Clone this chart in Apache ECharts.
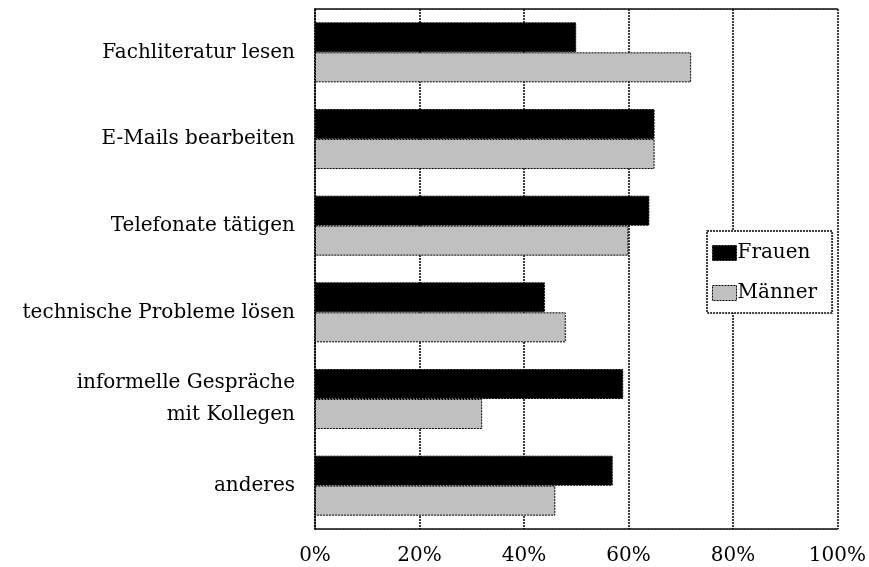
<!DOCTYPE html>
<html>
<head>
<meta charset="utf-8">
<script src="https://cdn.jsdelivr.net/npm/echarts@6/dist/echarts.min.js"></script>
<style>
html,body{margin:0;padding:0;background:#fff;}
#chart{width:869px;height:567px;}
</style>
</head>
<body>
<div id="chart"></div>
<script>
const categories = [
  'Fachliteratur lesen',
  'E-Mails bearbeiten',
  'Telefonate tätigen',
  'technische Probleme lösen',
  'informelle Gespräche\nmit Kollegen',
  'anderes'
];
const frauen = [50, 65, 64, 44, 59, 57];
const maenner = [72, 65, 60, 48, 32, 46];
const seriesNames = ['Frauen', 'Männer'];
const tickValues = [0, 20, 40, 60, 80, 100];

const FONT = 'DejaVu Serif';
const dash = [2, 1];

const chart = echarts.init(document.getElementById('chart'), null, {renderer: 'canvas'});
chart.setOption({
  animation: false,
  backgroundColor: '#fff',
  textStyle: {fontFamily: FONT, color: '#000'},
  grid: {left: 315, right: 25, top: 9, bottom: 38, containLabel: false},
  legend: {
    orient: 'vertical',
    left: 707,
    top: 231,
    padding: [12, 15, 10, 5],
    itemGap: 20,
    itemWidth: 24,
    itemHeight: 15,
    icon: 'rect',
    itemStyle: {borderColor: '#000', borderWidth: 1, borderType: dash},
    backgroundColor: '#fff',
    borderColor: '#000',
    borderWidth: 1.5,
    borderType: dash,
    textStyle: {fontFamily: FONT, fontSize: 20, color: '#000', padding: [0, 0, 0, -4]},
    data: seriesNames
  },
  xAxis: [{
    type: 'value',
    min: 0,
    max: 100,
    interval: 20,
    position: 'bottom',
    axisLine: {show: true, onZero: false, lineStyle: {color: '#000', width: 1.5, type: dash}},
    axisTick: {show: false},
    axisLabel: {
      fontFamily: FONT, fontSize: 20, color: '#000', margin: 17,
      formatter: function (v) { return tickValues.indexOf(v) >= 0 ? v + '%' : ''; }
    },
    splitLine: {show: true, showMinLine: true, showMaxLine: true, lineStyle: {color: '#000', width: 1.5, type: dash}}
  }, {
    type: 'value',
    min: 0,
    max: 100,
    interval: 20,
    position: 'top',
    axisLine: {show: true, onZero: false, lineStyle: {color: '#000', width: 1.5, type: dash}},
    axisTick: {show: false},
    axisLabel: {show: false},
    splitLine: {show: false}
  }],
  yAxis: {
    type: 'category',
    inverse: true,
    data: categories,
    axisLine: {show: true, lineStyle: {color: '#000', width: 1.5, type: dash}},
    axisTick: {show: false},
    axisLabel: {fontFamily: FONT, fontSize: 20, color: '#000', margin: 20, lineHeight: 32, align: 'right'},
    splitLine: {show: false}
  },
  series: [{
    name: seriesNames[0],
    type: 'bar',
    data: frauen,
    barWidth: 30,
    barGap: '0%',
    itemStyle: {color: '#000', borderColor: '#000', borderWidth: 1, borderType: dash}
  }, {
    name: seriesNames[1],
    type: 'bar',
    data: maenner,
    barWidth: 30,
    barGap: '0%',
    itemStyle: {color: '#c0c0c0', borderColor: '#000', borderWidth: 1, borderType: dash}
  }]
});
</script>
</body>
</html>
